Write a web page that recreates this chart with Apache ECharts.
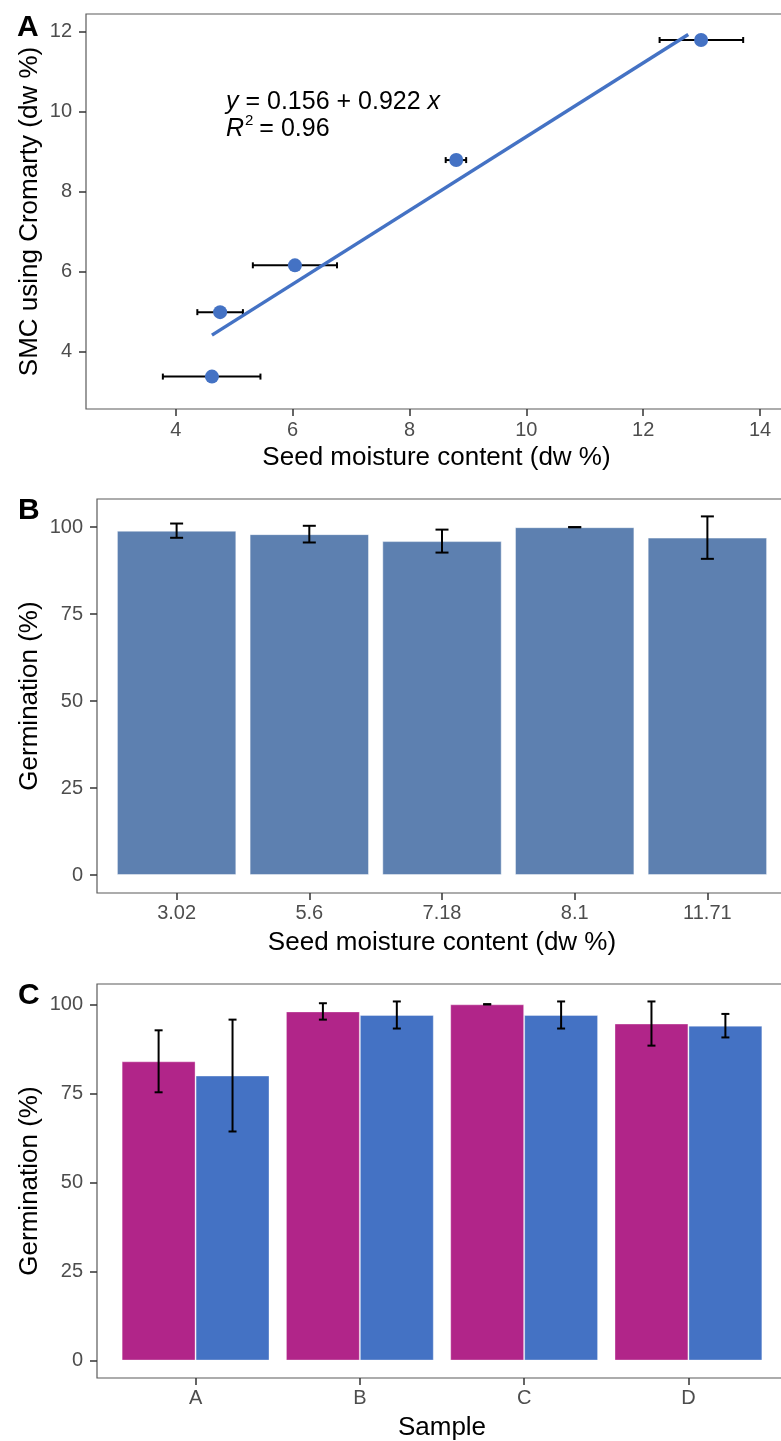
<!DOCTYPE html>
<html>
<head>
<meta charset="utf-8">
<title>Seed moisture and germination</title>
<script src="https://cdn.jsdelivr.net/npm/echarts@6/dist/echarts.min.js"></script>
<style>
  html, body { margin: 0; padding: 0; background: #fff; overflow: hidden; }
  #chart { width: 781px; height: 1441px; }
</style>
</head>
<body>
<div id="chart"></div>
<script>
// panel A: Cromarty vs measured seed moisture content
var smcX = [4.62, 4.76, 6.04, 8.80, 12.99]
var smcXLow = [3.78, 4.37, 5.32, 8.62, 12.28]
var smcXHigh = [5.45, 5.15, 6.76, 8.97, 13.71]
var smcY = [3.38, 4.99, 6.16, 8.79, 11.79]
var fitIntercept = 0.156
var fitSlope = 0.922
var fitRange = [4.62, 12.77]
var ticksAX = [4, 6, 8, 10, 12, 14]
var ticksAY = [4, 6, 8, 10, 12]

// panel B: germination by moisture content
var moistureCats = ['3.02', '5.6', '7.18', '8.1', '11.71']
var germB = [99, 98, 96, 100, 97]
var germBErr = [2.05, 2.4, 3.3, 0, 6.1]

// panel C: germination by sample, two groups
var samples = ['A', 'B', 'C', 'D']
var germC1 = [84, 98, 100, 94.6]
var germC1Err = [8.7, 2.3, 0, 6.2]
var germC2 = [80, 97, 97, 94]
var germC2Err = [15.7, 3.8, 3.8, 3.3]
var germTicks = [0, 25, 50, 75, 100]

var fontFamily = '"Liberation Sans", Arial, Helvetica, sans-serif'
var tickColor = '#333333'
var labelColor = '#4d4d4d'
var frameColor = '#5a5a5a'
var blue = '#4472c4'
var magenta = '#b12589'
var steel = '#5d80b0'

// bar panels are 690px wide, discrete scale padded 0.6 band each side (like ggplot)
var barGridW = 690
var bandB = barGridW / (moistureCats.length - 1 + 1.2)
var bandC = barGridW / (samples.length - 1 + 1.2)

var myChart = echarts.init(document.getElementById('chart'))

function valueAxis (gridIndex, min, max, ticks, name, nameGap, margin, formatter) {
  return {
    type: 'value',
    gridIndex: gridIndex,
    min: min,
    max: max,
    name: name,
    nameLocation: 'middle',
    nameGap: nameGap,
    nameMoveOverlap: false,
    nameTextStyle: { color: '#000', fontSize: 26, fontFamily: fontFamily },
    axisLine: { show: false, onZero: false },
    axisTick: { show: true, length: 7, customValues: ticks, lineStyle: { color: tickColor, width: 1.5 } },
    axisLabel: {
      show: true,
      margin: margin,
      customValues: ticks,
      color: labelColor,
      fontSize: 20,
      fontFamily: fontFamily,
      formatter: formatter
    },
    splitLine: { show: false }
  }
}

function indexAxis (gridIndex, cats, name, nameGap) {
  var ticks = cats.map(function (c, i) { return i })
  return valueAxis(gridIndex, -0.6, cats.length - 0.4, ticks, name, nameGap, 10, function (v) {
    return cats[Math.round(v)]
  })
}

function seg (x1, y1, x2, y2) {
  return {
    type: 'line',
    shape: { x1: x1, y1: y1, x2: x2, y2: y2 },
    style: { stroke: '#000', lineWidth: 2 }
  }
}

// horizontal error bars for panel A
function hErrRender (params, api) {
  var lo = api.coord([api.value(0), api.value(2)])
  var hi = api.coord([api.value(1), api.value(2)])
  var h = 3
  return {
    type: 'group',
    children: [
      seg(lo[0], lo[1], hi[0], hi[1]),
      seg(lo[0], lo[1] - h, lo[0], lo[1] + h),
      seg(hi[0], hi[1] - h, hi[0], hi[1] + h)
    ]
  }
}

// vertical error bars, shifted by a fraction of one x unit
function vErrRender (shift, capHalf) {
  return function (params, api) {
    var unit = api.size([1, 0])[0]
    var top = api.coord([api.value(0), api.value(2)])
    var bot = api.coord([api.value(0), api.value(1)])
    var x = top[0] + shift * unit
    return {
      type: 'group',
      children: [
        seg(x, top[1], x, bot[1]),
        seg(x - capHalf, top[1], x + capHalf, top[1]),
        seg(x - capHalf, bot[1], x + capHalf, bot[1])
      ]
    }
  }
}

var hErrData = smcX.map(function (v, i) { return [smcXLow[i], smcXHigh[i], smcY[i]] })
var scatterData = smcX.map(function (v, i) { return [v, smcY[i]] })
var fitData = fitRange.map(function (x) { return [x, fitIntercept + fitSlope * x] })
var barB = germB.map(function (v, i) { return [i, v] })
var barC1 = germC1.map(function (v, i) { return [i, v] })
var barC2 = germC2.map(function (v, i) { return [i, v] })
var errB = germB.map(function (v, i) { return [i, v - germBErr[i], v + germBErr[i]] })
var errC1 = germC1.map(function (v, i) { return [i, v - germC1Err[i], v + germC1Err[i]] })
var errC2 = germC2.map(function (v, i) { return [i, v - germC2Err[i], v + germC2Err[i]] })

var gridBase = { show: true, borderColor: frameColor, borderWidth: 1.2, backgroundColor: '#fff', outerBoundsMode: 'none', containLabel: false }
var labelFont = 'bold 30px ' + fontFamily

var option = {
  backgroundColor: '#fff',
  animation: false,
  grid: [
    Object.assign({ left: 86, top: 14, width: 701, height: 395 }, gridBase),
    Object.assign({ left: 97, top: 499, width: barGridW, height: 394 }, gridBase),
    Object.assign({ left: 97, top: 984, width: barGridW, height: 394 }, gridBase)
  ],
  xAxis: [
    valueAxis(0, 2.465, 14.46, ticksAX, 'Seed moisture content (dw %)', 36, 11),
    indexAxis(1, moistureCats, 'Seed moisture content (dw %)', 37),
    indexAxis(2, samples, 'Sample', 37)
  ],
  yAxis: [
    valueAxis(0, 2.57, 12.44, ticksAY, 'SMC using Cromarty (dw %)', 43, 14),
    valueAxis(1, -5.15, 108.1, germTicks, 'Germination (%)', 54, 14),
    valueAxis(2, -4.9, 105.7, germTicks, 'Germination (%)', 54, 14)
  ],
  series: [
    {
      type: 'custom',
      xAxisIndex: 0,
      yAxisIndex: 0,
      renderItem: hErrRender,
      encode: { x: [0, 1], y: 2 },
      data: hErrData,
      z: 2
    },
    {
      type: 'scatter',
      xAxisIndex: 0,
      yAxisIndex: 0,
      symbolSize: 14,
      itemStyle: { color: blue, opacity: 1 },
      data: scatterData,
      z: 3
    },
    {
      type: 'line',
      xAxisIndex: 0,
      yAxisIndex: 0,
      showSymbol: false,
      lineStyle: { color: blue, width: 3.5 },
      data: fitData,
      z: 4
    },
    {
      type: 'bar',
      xAxisIndex: 1,
      yAxisIndex: 1,
      barWidth: bandB * 0.9,
      itemStyle: { color: steel, borderColor: 'rgba(255,255,255,0.45)', borderWidth: 1 },
      data: barB,
      z: 2
    },
    {
      type: 'custom',
      xAxisIndex: 1,
      yAxisIndex: 1,
      renderItem: vErrRender(0, 6.5),
      encode: { x: 0, y: [1, 2] },
      data: errB,
      z: 5
    },
    {
      type: 'bar',
      xAxisIndex: 2,
      yAxisIndex: 2,
      barWidth: bandC * 0.45,
      barGap: '0%',
      itemStyle: { color: magenta, borderColor: 'rgba(255,255,255,0.35)', borderWidth: 1 },
      data: barC1,
      z: 2
    },
    {
      type: 'bar',
      xAxisIndex: 2,
      yAxisIndex: 2,
      barWidth: bandC * 0.45,
      barGap: '0%',
      itemStyle: { color: blue, borderColor: 'rgba(255,255,255,0.35)', borderWidth: 1 },
      data: barC2,
      z: 2
    },
    {
      type: 'custom',
      xAxisIndex: 2,
      yAxisIndex: 2,
      renderItem: vErrRender(-0.225, 4),
      encode: { x: 0, y: [1, 2] },
      data: errC1,
      z: 5
    },
    {
      type: 'custom',
      xAxisIndex: 2,
      yAxisIndex: 2,
      renderItem: vErrRender(0.225, 4),
      encode: { x: 0, y: [1, 2] },
      data: errC2,
      z: 5
    }
  ],
  graphic: [
    { type: 'text', left: 17, top: 13, style: { text: 'A', fill: '#000', font: labelFont } },
    { type: 'text', left: 18, top: 496, style: { text: 'B', fill: '#000', font: labelFont } },
    { type: 'text', left: 18, top: 981, style: { text: 'C', fill: '#000', font: labelFont } },
    {
      type: 'text',
      left: 226,
      top: 89,
      z: 10,
      style: {
        text: '{i|y} = 0.156 + 0.922 {i|x}\n{i|R}{g|2} = 0.96',
        fill: '#000',
        fontSize: 25,
        fontFamily: fontFamily,
        lineHeight: 27,
        rich: {
          i: { fontStyle: 'italic', fontSize: 25, fontFamily: fontFamily, lineHeight: 27 },
          g: { fontSize: 15, fontFamily: fontFamily, lineHeight: 27, fill: 'rgba(0,0,0,0)' }
        }
      }
    },
    // superscript of R², raised above the baseline
    { type: 'text', left: 245, top: 113, z: 10, style: { text: '2', fill: '#000', font: '15px ' + fontFamily } }
  ]
}

myChart.setOption(option)
window.addEventListener('resize', function () {
  myChart.resize()
})
</script>
</body>
</html>
